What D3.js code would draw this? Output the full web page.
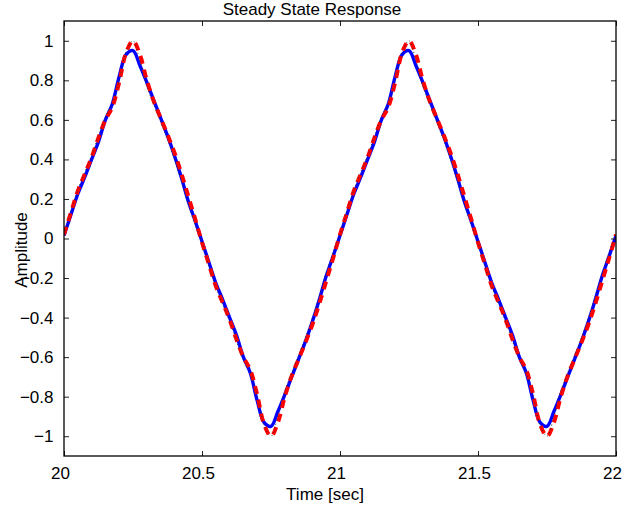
<!doctype html>
<meta charset=utf8>
<title>Steady State Response</title>
<style>
  html, body { margin: 0; background: #fff; }
  svg { display: block; font-family: "Liberation Sans", Arial, Helvetica, sans-serif; }
  .axis text { font-size: 17px; fill: #000; }
  .axis line { stroke: #222; }
  .axis path { display: none; }
</style>
<svg width=631 height=508></svg>
<script src=https://d3js.org/d3.v7.min.js></script>
<script>
  // sample times: 20 .. 22 every 0.025 s
  var time = d3.range(81).map(function(i) { return 20 + i * 0.025; });

  // blue solid response
  var blueVals = [
    0.015, 0.12, 0.225, 0.31, 0.40, 0.49, 0.60, 0.68, 0.82, 0.93,
    0.95, 0.875, 0.79, 0.70, 0.61, 0.52, 0.42, 0.31, 0.19, 0.09,
    -0.015, -0.12, -0.225, -0.31, -0.40, -0.49, -0.60, -0.68, -0.82, -0.93,
    -0.95, -0.875, -0.79, -0.70, -0.61, -0.52, -0.42, -0.31, -0.19, -0.09,
    0.015, 0.12, 0.225, 0.31, 0.40, 0.49, 0.60, 0.68, 0.82, 0.93,
    0.95, 0.875, 0.79, 0.70, 0.61, 0.52, 0.42, 0.31, 0.19, 0.09,
    -0.015, -0.12, -0.225, -0.31, -0.40, -0.49, -0.60, -0.68, -0.82, -0.93,
    -0.95, -0.875, -0.79, -0.70, -0.61, -0.52, -0.42, -0.31, -0.19, -0.09,
    0.015
  ];

  // red dashed
  var redVals = [
    0.02, 0.13, 0.24, 0.325, 0.41, 0.51, 0.60, 0.665, 0.79, 0.94,
    1.00, 0.93, 0.80, 0.695, 0.61, 0.525, 0.435, 0.33, 0.215, 0.10,
    -0.02, -0.13, -0.24, -0.325, -0.41, -0.51, -0.60, -0.665, -0.79, -0.94,
    -1.00, -0.93, -0.80, -0.695, -0.61, -0.525, -0.435, -0.33, -0.215, -0.10,
    0.02, 0.13, 0.24, 0.325, 0.41, 0.51, 0.60, 0.665, 0.79, 0.94,
    1.00, 0.93, 0.80, 0.695, 0.61, 0.525, 0.435, 0.33, 0.215, 0.10,
    -0.02, -0.13, -0.24, -0.325, -0.41, -0.51, -0.60, -0.665, -0.79, -0.94,
    -1.00, -0.93, -0.80, -0.695, -0.61, -0.525, -0.435, -0.33, -0.215, -0.10,
    0.02
  ];

  // black dotted
  var blackVals = [
    0.02, 0.14, 0.245, 0.335, 0.42, 0.52, 0.615, 0.68, 0.80, 0.945,
    1.00, 0.90, 0.77, 0.68, 0.59, 0.50, 0.40, 0.29, 0.175, 0.07,
    -0.02, -0.14, -0.245, -0.335, -0.42, -0.52, -0.615, -0.68, -0.80, -0.945,
    -1.00, -0.90, -0.77, -0.68, -0.59, -0.50, -0.40, -0.29, -0.175, -0.07,
    0.02, 0.14, 0.245, 0.335, 0.42, 0.52, 0.615, 0.68, 0.80, 0.945,
    1.00, 0.90, 0.77, 0.68, 0.59, 0.50, 0.40, 0.29, 0.175, 0.07,
    -0.02, -0.14, -0.245, -0.335, -0.42, -0.52, -0.615, -0.68, -0.80, -0.945,
    -1.00, -0.90, -0.77, -0.68, -0.59, -0.50, -0.40, -0.29, -0.175, -0.07,
    0.02
  ];

  var xTicks = [20, 20.5, 21, 21.5, 22];
  var yTicks = [-1, -0.8, -0.6, -0.4, -0.2, 0, 0.2, 0.4, 0.6, 0.8, 1];

  var svg = d3.select('svg');
  var plotLeft = 64, plotRight = 616, plotTop = 21, plotBottom = 456;

  var x = d3.scaleLinear().domain([20, 22]).range([plotLeft, plotRight]);
  var y = d3.scaleLinear().domain([-1.1, 1.1]).range([plotBottom, plotTop]);

  svg.append('clipPath').attr('id', 'clip')
    .append('rect')
    .attr('x', plotLeft).attr('y', plotTop)
    .attr('width', plotRight - plotLeft).attr('height', plotBottom - plotTop);

  var line = d3.line()
    .x(function(d) { return x(d[0]); })
    .y(function(d) { return y(d[1]); })
    .curve(d3.curveCatmullRom);

  function pairs(vals) {
    return time.map(function(t, i) { return [t, vals[i]]; });
  }

  var plot = svg.append('g').attr('clip-path', 'url(#clip)');

  plot.append('path')
    .attr('d', line(pairs(blueVals)))
    .attr('fill', 'none')
    .attr('stroke', '#0000ff')
    .attr('stroke-width', 3.4);

  plot.append('path')
    .attr('d', line(pairs(redVals)))
    .attr('fill', 'none')
    .attr('stroke', '#ff0000')
    .attr('stroke-width', 4)
    .attr('stroke-dasharray', '8,6');

  plot.append('path')
    .attr('d', line(pairs(blackVals)))
    .attr('fill', 'none')
    .attr('stroke', '#333')
    .attr('stroke-width', 1)
    .attr('stroke-dasharray', '1,3');

  // axes, ticks pointing inward like a boxed plot
  svg.append('g').attr('class', 'axis')
    .attr('transform', 'translate(0,' + plotBottom + ')')
    .call(d3.axisBottom(x).tickValues(xTicks).tickFormat(d3.format('')).tickSizeInner(-5).tickSizeOuter(0).tickPadding(11))
    .selectAll('text').attr('dx', -4);

  svg.append('g').attr('class', 'axis')
    .attr('transform', 'translate(0,' + plotTop + ')')
    .call(d3.axisTop(x).tickValues(xTicks).tickFormat('').tickSizeInner(-5).tickSizeOuter(0));

  svg.append('g').attr('class', 'axis')
    .attr('transform', 'translate(' + plotLeft + ',0)')
    .call(d3.axisLeft(y).tickValues(yTicks).tickFormat(d3.format('')).tickSizeInner(-5).tickSizeOuter(0).tickPadding(10.5));

  svg.append('g').attr('class', 'axis')
    .attr('transform', 'translate(' + plotRight + ',0)')
    .call(d3.axisRight(y).tickValues(yTicks).tickFormat('').tickSizeInner(-5).tickSizeOuter(0));

  svg.append('rect')
    .attr('x', plotLeft).attr('y', plotTop)
    .attr('width', plotRight - plotLeft).attr('height', plotBottom - plotTop)
    .attr('fill', 'none')
    .attr('stroke', '#000')
    .attr('stroke-width', 1.3);

  svg.append('text')
    .attr('x', 312).attr('y', 15)
    .attr('text-anchor', 'middle')
    .style('font-size', '17px')
    .text('Steady State Response');

  svg.append('text')
    .attr('x', 325).attr('y', 500)
    .attr('text-anchor', 'middle')
    .style('font-size', '17px')
    .text('Time [sec]');

  svg.append('text')
    .attr('transform', 'translate(27,250) rotate(-90)')
    .attr('text-anchor', 'middle')
    .style('font-size', '17px')
    .text('Amplitude');
</script>
